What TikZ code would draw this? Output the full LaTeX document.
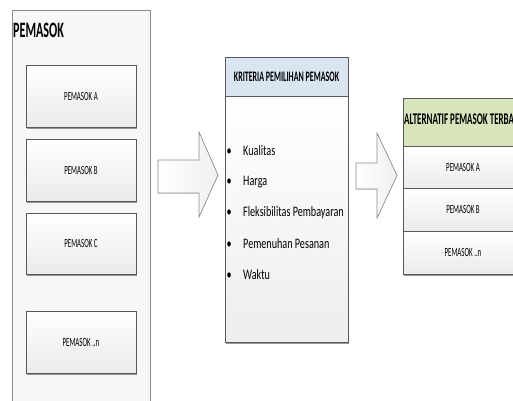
\documentclass[tikz,border=0pt]{standalone}
\usepackage{fontspec}
\setmainfont{Carlito}
\newfontfamily\capsfont{Carlito}[FakeStretch=0.55]
\newfontfamily\itemfont{Carlito}[FakeStretch=0.7]
\usetikzlibrary{shadows}

\definecolor{edge}{HTML}{595959}
\definecolor{frameedge}{HTML}{8C8C8C}
\definecolor{hdrblue}{HTML}{D9E5F0}
\definecolor{hdrgreen}{HTML}{D8E4BC}

\begin{document}
\begin{tikzpicture}[x=1pt,y=-1pt,
  shade/.style={drop shadow={shadow xshift=1pt,shadow yshift=-1.6pt,opacity=0.4,fill=black}},
  frame/.style={draw=frameedge,line width=0.6pt,fill=black!3},
  supbox/.style={draw=edge,line width=0.6pt,top color=white,bottom color=black!8,shade,
    inner sep=0pt,minimum width=110pt,font=\capsfont\fontsize{12.5}{14}\selectfont},
  hdr/.style={draw=edge,line width=0.6pt,inner sep=0pt,
    font=\capsfont\bfseries\fontsize{14.5}{16}\selectfont},
  body/.style={draw=edge,line width=0.6pt,top color=white,bottom color=black!7,inner sep=0pt},
  row/.style={draw=edge,line width=0.6pt,top color=white,bottom color=black!8,inner sep=0pt,
    minimum width=140pt},
  rowlabel/.style={inner sep=0pt,font=\capsfont\fontsize{12.5}{14}\selectfont},
  item/.style={anchor=west,inner sep=0pt,font=\itemfont\fontsize{14.5}{16}\selectfont},
  blockarrow/.style={draw=frameedge,line width=0.6pt,left color=white,right color=black!6,line join=miter}
]
\useasboundingbox (0,0) rectangle (513,400);

% supplier column
\node[frame,minimum width=138pt,minimum height=400pt,inner sep=0pt] (sup) at (81,210) {};
\node[anchor=west,inner sep=0pt,font=\capsfont\bfseries\fontsize{22}{24}\selectfont] (suptitle) at (13,30) {PEMASOK};
\node[supbox,minimum height=62pt] (pA) at (81,96) {PEMASOK A};
\node[supbox,minimum height=62pt] (pB) at (81,170) {PEMASOK B};
\node[supbox,minimum height=61pt] (pC) at (81,243.5) {PEMASOK C};
\node[supbox,minimum height=62pt] (pN) at (81,342) {PEMASOK ..n};

% arrow into the criteria box
\filldraw[blockarrow] (158,160) -- (199,160) -- (199,132) -- (218,175)
  -- (199,217) -- (199,193) -- (158,193) -- cycle;

% selection criteria
\node[body,shade,minimum width=123pt,minimum height=246pt] (kbody) at (286.5,219) {};
\node[hdr,fill=hdrblue,minimum width=123pt,minimum height=39pt] (krit) at (286.5,76.5) {KRITERIA PEMILIHAN PEMASOK};
\foreach \txt [count=\i] in {Kualitas,Harga,Fleksibilitas Pembayaran,Pemenuhan Pesanan,Waktu}
  \node[item] (k\i) at (226,120+31*\i) {\makebox[17pt][l]{\hspace{0.5pt}•}\txt};

% arrow into the alternatives box
\filldraw[blockarrow] (356,163) -- (377,163) -- (377,133) -- (397,175.5)
  -- (377,218) -- (377,189) -- (356,189) -- cycle;

% ranked alternatives (the box runs on past the right edge of the page)
\node[body,shade,minimum width=140pt,minimum height=176pt] (alt) at (473,186) {};
\node[hdr,fill=hdrgreen,minimum width=140pt,minimum height=48pt] (althdr) at (473,122) {};
\node[anchor=west,inner sep=0pt,font=\capsfont\bfseries\fontsize{16.3}{18}\selectfont] (alttitle) at (404,119) {ALTERNATIF PEMASOK TERBA};
\node[row,minimum height=42pt] (ra) at (473,167) {};
\node[row,minimum height=43pt] (rb) at (473,209.5) {};
\node[row,minimum height=43pt] (rn) at (473,252.5) {};
\node[rowlabel] (ral) at (463,167) {PEMASOK A};
\node[rowlabel] (rbl) at (463,209.5) {PEMASOK B};
\node[rowlabel] (rnl) at (463,252.5) {PEMASOK ..n};
\end{tikzpicture}
\end{document}
